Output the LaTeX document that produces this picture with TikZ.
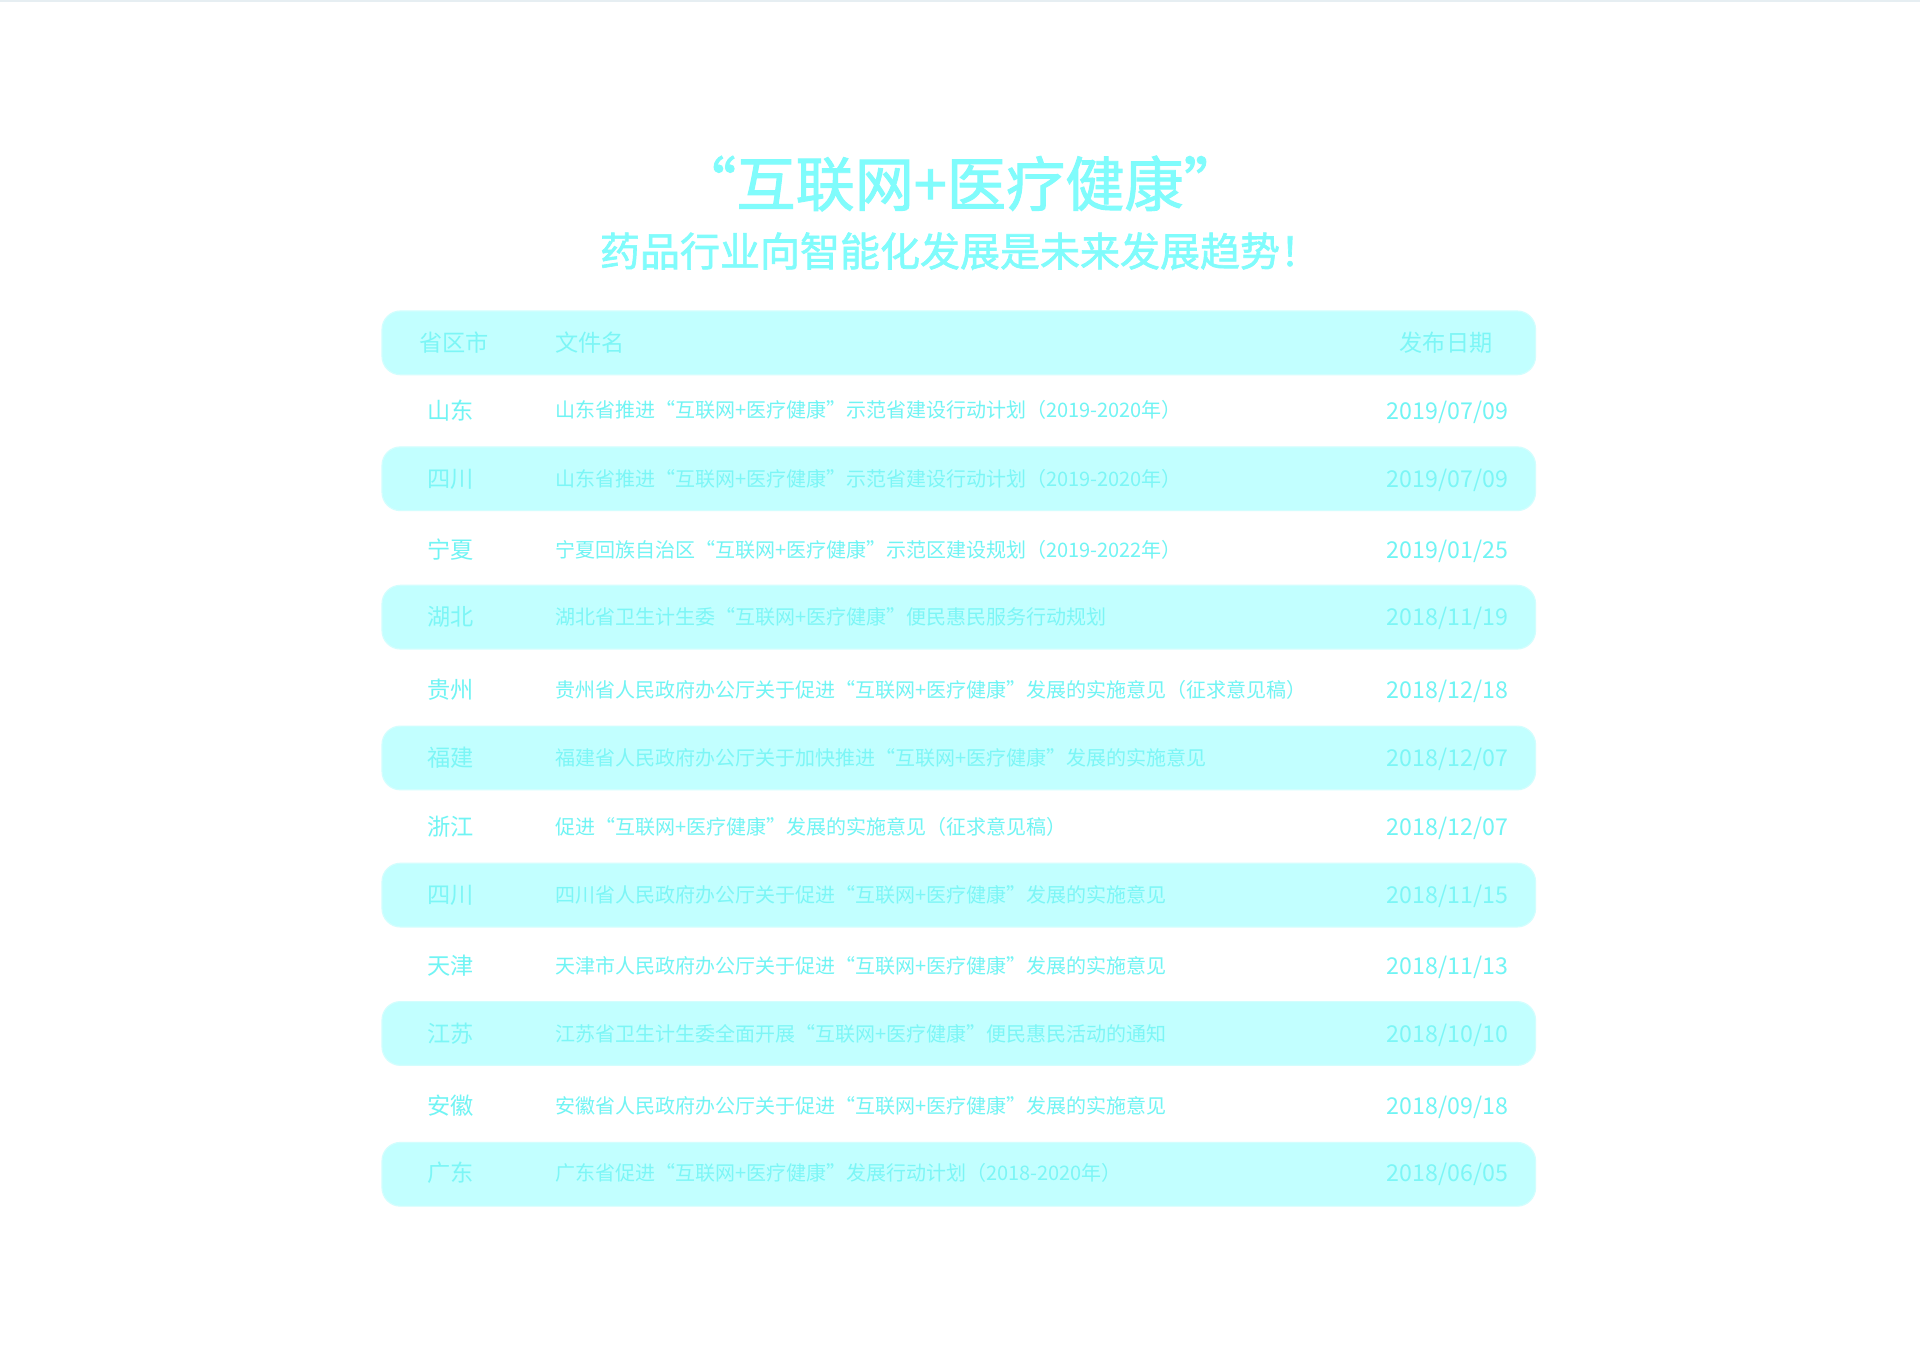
\documentclass[tikz,border=0pt]{standalone}
\usepackage{fontspec}
\newfontfamily\cjk{Noto Sans CJK SC}
\newfontfamily\cjkt{Noto Sans CJK SC}[FakeBold=1.6]
\definecolor{bandfill}{HTML}{C2FFFF}
\definecolor{bandline}{HTML}{D2FEFE}
\definecolor{titlecol}{HTML}{80FCFC}
\definecolor{rowtext}{HTML}{70F4F4}
\definecolor{bandtext}{HTML}{7CF6F6}
\definecolor{topline}{HTML}{E6EEF2}
\tikzset{
  band/.style={fill=bandfill, draw=bandline, line width=0.6pt, rounded corners=9.2pt},
  cell/.style={inner sep=0pt},
  prov/.style={cell, font=\cjk\fontsize{11.6}{12}\selectfont, text height=10.2pt, text depth=1.4pt, anchor=center},
  doc/.style={cell, font=\cjk\fontsize{10}{11}\selectfont, text height=8.8pt, text depth=1.2pt, anchor=west},
  date/.style={cell, font=\cjk\fontsize{11.6}{12}\selectfont, text height=10.2pt, text depth=1.4pt, anchor=center},
  onwhite/.style={text=rowtext},
  onband/.style={text=bandtext},
  title/.style={inner sep=0pt, text=titlecol, font=\cjkt\fontsize{29.6}{32}\selectfont, text height=26pt, text depth=3.6pt},
  subtitle/.style={inner sep=0pt, text=titlecol, font=\cjkt\fontsize{20}{22}\selectfont, text height=17.6pt, text depth=2.4pt}
}
\begin{document}
\begin{tikzpicture}[x=0.6122pt, y=-0.6122pt]
\useasboundingbox[fill=white] (0,0) rectangle (1568,1110.7);
\fill[topline] (0,0) rectangle (1568,1.5);
% title
\node[title] (t1) at (784,150) {“互联网+医疗健康”};
\node[subtitle] (t2) at (784,205) {药品行业向智能化发展是未来发展趋势！};
% bands
\draw[band] (312,254) rectangle (1254,306);
\draw[band] (312,365) rectangle (1254,417);
\draw[band] (312,478) rectangle (1254,530);
\draw[band] (312,593) rectangle (1254,645);
\draw[band] (312,705) rectangle (1254,757);
\draw[band] (312,818) rectangle (1254,870);
\draw[band] (312,933) rectangle (1254,985);
% header
\node[prov, onband] (h1) at (371,280) {省区市};
\node[prov, anchor=west, onband] (h2) at (453,280) {文件名};
\node[date, onband] (h3) at (1181,280) {发布日期};
% rows
\node[prov, onwhite] (p1) at (368,335) {山东};
\node[doc, onwhite] (d1) at (453,335) {山东省推进“互联网+医疗健康”示范省建设行动计划（2019-2020年）};
\node[date, onwhite] (e1) at (1182,335) {2019/07/09};

\node[prov, onband] (p2) at (368,391) {四川};
\node[doc, onband] (d2) at (453,391) {山东省推进“互联网+医疗健康”示范省建设行动计划（2019-2020年）};
\node[date, onband] (e2) at (1182,391) {2019/07/09};

\node[prov, onwhite] (p3) at (368,449) {宁夏};
\node[doc, onwhite] (d3) at (453,449) {宁夏回族自治区“互联网+医疗健康”示范区建设规划（2019-2022年）};
\node[date, onwhite] (e3) at (1182,449) {2019/01/25};

\node[prov, onband] (p4) at (368,504) {湖北};
\node[doc, onband] (d4) at (453,504) {湖北省卫生计生委“互联网+医疗健康”便民惠民服务行动规划};
\node[date, onband] (e4) at (1182,504) {2018/11/19};

\node[prov, onwhite] (p5) at (368,563) {贵州};
\node[doc, onwhite] (d5) at (453,563) {贵州省人民政府办公厅关于促进“互联网+医疗健康”发展的实施意见（征求意见稿）};
\node[date, onwhite] (e5) at (1182,563) {2018/12/18};

\node[prov, onband] (p6) at (368,619) {福建};
\node[doc, onband] (d6) at (453,619) {福建省人民政府办公厅关于加快推进“互联网+医疗健康”发展的实施意见};
\node[date, onband] (e6) at (1182,619) {2018/12/07};

\node[prov, onwhite] (p7) at (368,675) {浙江};
\node[doc, onwhite] (d7) at (453,675) {促进“互联网+医疗健康”发展的实施意见（征求意见稿）};
\node[date, onwhite] (e7) at (1182,675) {2018/12/07};

\node[prov, onband] (p8) at (368,731) {四川};
\node[doc, onband] (d8) at (453,731) {四川省人民政府办公厅关于促进“互联网+医疗健康”发展的实施意见};
\node[date, onband] (e8) at (1182,731) {2018/11/15};

\node[prov, onwhite] (p9) at (368,789) {天津};
\node[doc, onwhite] (d9) at (453,789) {天津市人民政府办公厅关于促进“互联网+医疗健康”发展的实施意见};
\node[date, onwhite] (e9) at (1182,789) {2018/11/13};

\node[prov, onband] (p10) at (368,844) {江苏};
\node[doc, onband] (d10) at (453,844) {江苏省卫生计生委全面开展“互联网+医疗健康”便民惠民活动的通知};
\node[date, onband] (e10) at (1182,844) {2018/10/10};

\node[prov, onwhite] (p11) at (368,903) {安徽};
\node[doc, onwhite] (d11) at (453,903) {安徽省人民政府办公厅关于促进“互联网+医疗健康”发展的实施意见};
\node[date, onwhite] (e11) at (1182,903) {2018/09/18};

\node[prov, onband] (p12) at (368,958) {广东};
\node[doc, onband] (d12) at (453,958) {广东省促进“互联网+医疗健康”发展行动计划（2018-2020年）};
\node[date, onband] (e12) at (1182,958) {2018/06/05};
\end{tikzpicture}
\end{document}
